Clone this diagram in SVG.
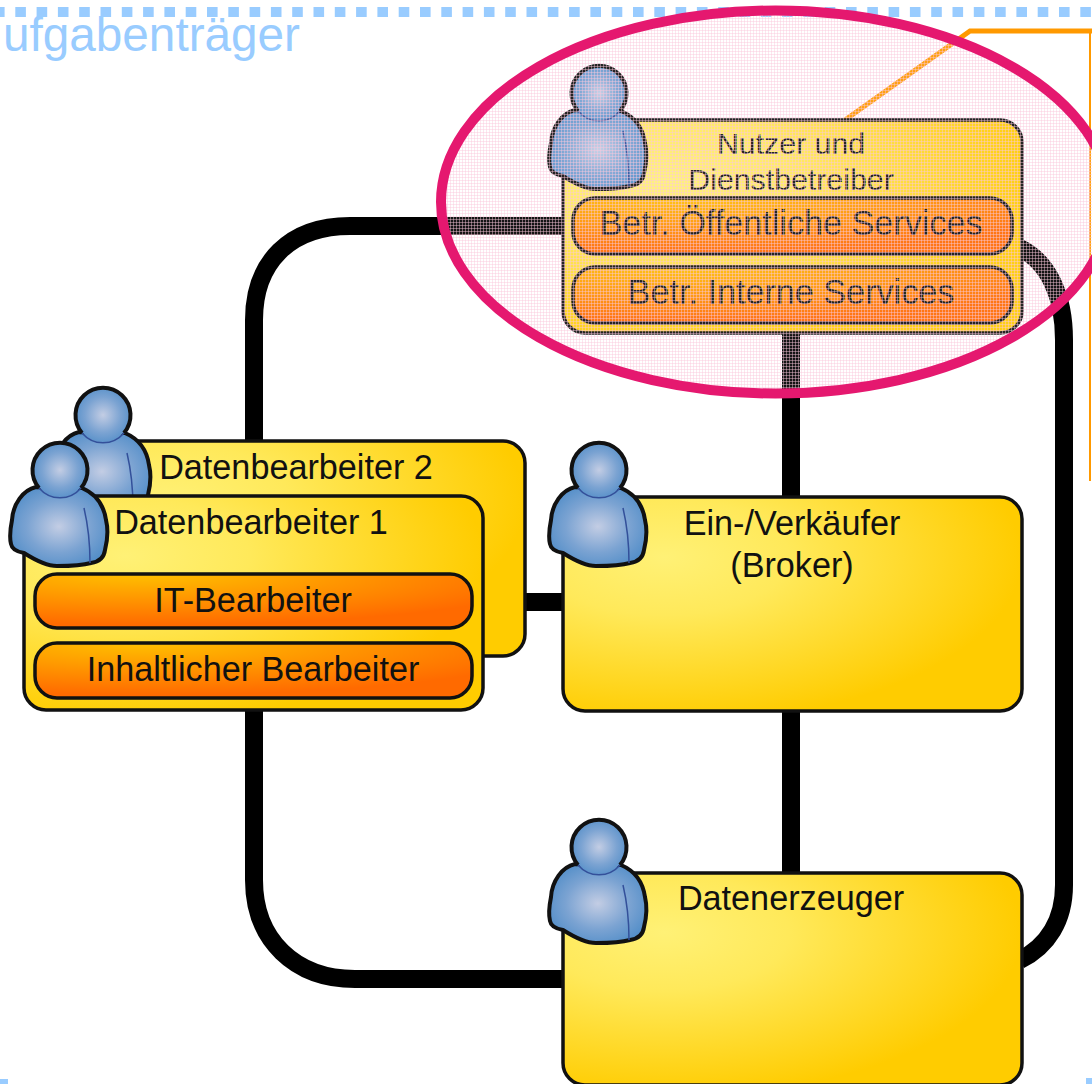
<svg xmlns="http://www.w3.org/2000/svg" width="1092" height="1084" viewBox="0 0 1092 1084">
<style>
text{font-family:"Liberation Sans",Arial,sans-serif;fill:#111;font-size:34.2px;text-anchor:middle}
.box{fill:url(#yellow);stroke:#111;stroke-width:3.5}
.role{fill:url(#orange);stroke:#111;stroke-width:3.5}
.conn{fill:none;stroke:#000;stroke-width:18}
.dots{fill:none;stroke:#99ccff;stroke-width:10;stroke-dasharray:10.6 10.7}
.body{fill:url(#blue);stroke:#111;stroke-width:4;stroke-linejoin:round}
.fill{fill:url(#blue)}
.outline{fill:none;stroke:#111;stroke-width:4}
.fold{fill:none;stroke:#33509a;stroke-width:1.5}
</style>
<defs>
<radialGradient id="yellow" cx="0.22" cy="0.28" r="0.78"><stop offset="0" stop-color="#fff176"/><stop offset="0.35" stop-color="#ffe95a"/><stop offset="1" stop-color="#ffcc00"/></radialGradient>
<radialGradient id="orange" cx="0.25" cy="0" r="0.95"><stop offset="0" stop-color="#ffc000"/><stop offset="1" stop-color="#ff6a00"/></radialGradient>
<radialGradient id="blue" cx="0.5" cy="0.5" r="0.6"><stop offset="0" stop-color="#c3cde4"/><stop offset="0.55" stop-color="#7ba3d2"/><stop offset="1" stop-color="#4d8bc7"/></radialGradient>
<pattern id="mesh" width="3" height="3" patternUnits="userSpaceOnUse"><rect width="3" height="3" fill="#ffffff" fill-opacity="0.08"/><rect width="3" height="1" fill="#fbc8dc" fill-opacity="0.45"/><rect width="1" height="3" fill="#fbc8dc" fill-opacity="0.45"/></pattern>
<g id="person">
<path class="body" d="M-24 17C-37 20-47 34-48 50C-50 60-50 70-49 74C-48 80-42 82-36 83C-25 90-12 96-3 96C10 96 24 95 31 93C38 92 44 88 45 80C48 68 48 58 46 50C44 36 36 24 22 18Z"/>
<path class="fold" d="M24 38C28 55 30 72 30 93"/>
<circle class="fill" r="27"/>
<path class="outline" d="M-21 18A27.500 27.500 0 1 1 21 18"/>
<path class="fold" d="M-21 18A27.500 27.500 0 0 0 21 18"/>
</g>
</defs>
<g id="header">
<line class="dots" x1="-6" y1="12" x2="1092" y2="12"/>
<text x="3" y="51" style="font-size:47.7px;fill:#99ccff;text-anchor:start">ufgabenträger</text>
<rect x="0" y="1079" width="8" height="5" fill="#99ccff"/>
<rect x="1086" y="1078" width="6" height="6" fill="#99ccff"/>
</g>
<g id="connectors">
<path class="conn" d="M254 445V320C254 262 290 226 350 226H565"/>
<path class="conn" d="M1020 248C1048 262 1064 295 1064 340V885C1064 920 1048 946 1020 960"/>
<path class="conn" d="M254 705V880C254 940 295 979 355 979H565"/>
<path class="conn" d="M791 330V875"/>
<path class="conn" d="M520 602H565"/>
<path fill="none" stroke="#ff9900" stroke-width="5" d="M845 120L970 31H1092"/>
<path fill="none" stroke="#ff9900" stroke-width="2" d="M1090 31V481"/>
</g>
<g id="datenbearbeiter2">
<rect class="box" x="62" y="441" width="463" height="215" rx="22"/>
<use href="#person" x="103" y="415"/>
<text x="296" y="479">Datenbearbeiter 2</text>
</g>
<g id="datenbearbeiter1">
<rect class="box" x="24" y="496" width="459" height="214" rx="22"/>
<use href="#person" x="60" y="470"/>
<text x="251" y="534">Datenbearbeiter 1</text>
<rect class="role" x="35" y="574" width="437" height="54" rx="22"/>
<text x="253" y="612">IT-Bearbeiter</text>
<rect class="role" x="35" y="643" width="437" height="55" rx="22"/>
<text x="253" y="681">Inhaltlicher Bearbeiter</text>
</g>
<g id="broker">
<rect class="box" x="563" y="497" width="459" height="214" rx="22"/>
<use href="#person" x="599" y="470"/>
<text x="792" y="535">Ein-/Verkäufer</text>
<text x="792" y="577">(Broker)</text>
</g>
<g id="datenerzeuger">
<rect class="box" x="563" y="873" width="459" height="212" rx="22"/>
<use href="#person" x="599" y="847"/>
<text x="791" y="910">Datenerzeuger</text>
</g>
<g id="dienstbetreiber">
<rect class="box" x="563" y="120" width="459" height="213" rx="22"/>
<use href="#person" x="599" y="93"/>
<text x="791" y="154" style="font-size:30.3px">Nutzer und</text>
<text x="791" y="190" style="font-size:30.3px">Dienstbetreiber</text>
<rect class="role" x="573" y="198" width="439" height="56" rx="22"/>
<text x="791" y="235">Betr. Öffentliche Services</text>
<rect class="role" x="573" y="267" width="439" height="56" rx="22"/>
<text x="791" y="304">Betr. Interne Services</text>
</g>
<g id="highlight">
<ellipse cx="775.500" cy="202" rx="334.500" ry="191.500" fill="url(#mesh)" stroke="#e5186f" stroke-width="10"/>
</g>
</svg>
